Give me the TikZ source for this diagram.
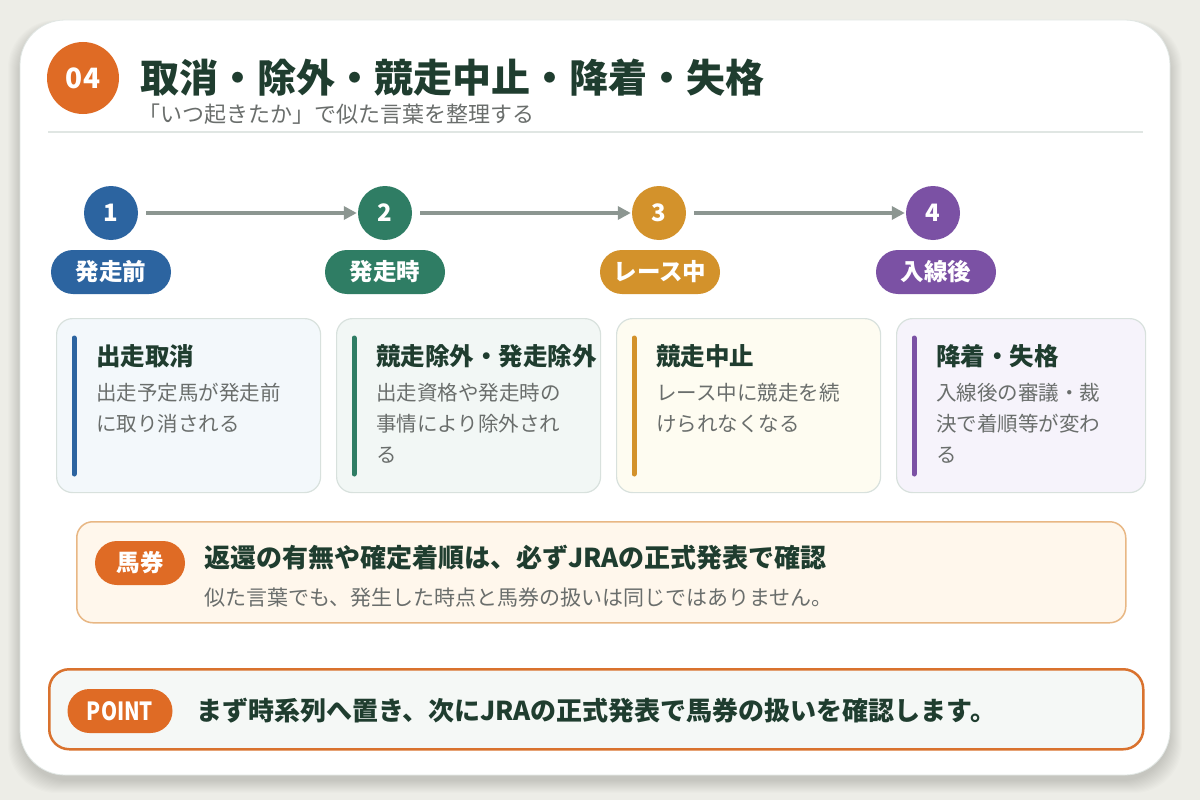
\documentclass[tikz,border=0pt]{standalone}
\usepackage{fontspec}
\setmainfont{Noto Sans CJK JP}
\usetikzlibrary{arrows.meta}
\definecolor{bgc}{HTML}{EDEDE7}
\definecolor{dark}{HTML}{1F3D2F}
\definecolor{grayt}{HTML}{6A6E6C}
\definecolor{c1}{HTML}{2C64A0}
\definecolor{c2}{HTML}{2F7D64}
\definecolor{c3}{HTML}{D3922B}
\definecolor{c4}{HTML}{7B51A4}
\definecolor{orng}{HTML}{DF6B25}
\definecolor{arrg}{HTML}{8C9691}
\definecolor{f1}{HTML}{F3F8FB}
\definecolor{f2}{HTML}{F2F7F5}
\definecolor{f3}{HTML}{FEFCF1}
\definecolor{f4}{HTML}{F6F3FB}
\definecolor{cardb}{HTML}{D8E1DD}
\definecolor{bumpf}{HTML}{FFF7EC}
\definecolor{bumpb}{HTML}{E8B784}
\definecolor{pointf}{HTML}{F5F8F6}
\definecolor{pointb}{HTML}{D9722E}
\definecolor{rule}{HTML}{E0E6E3}
\tikzset{
  numc/.style={circle, fill=#1, minimum size=54pt, inner sep=0pt, text=white, font=\fontsize{24}{26}\selectfont\bfseries},
  pill/.style={rectangle, rounded corners=22pt, fill=#1, minimum width=120pt, minimum height=44pt, inner sep=0pt, text=white, font=\fontsize{23.5}{26}\selectfont\bfseries},
  card/.style={rectangle, rounded corners=16pt, draw=cardb, line width=1.2pt, fill=#1, minimum width=264pt, minimum height=174pt, anchor=north west, inner sep=0pt},
  ctitle/.style={anchor=west, inner sep=0pt, text=dark, font=\fontsize{24.5}{28}\selectfont\bfseries},
  cbody/.style={anchor=north west, inner sep=0pt, align=left, text=grayt, font=\fontsize{20.5}{31}\selectfont},
  arr/.style={draw=arrg, line width=4pt, -{Triangle[length=13pt,width=13pt]}, shorten <=8pt, shorten >=1pt},
  accent/.style={line width=5pt, line cap=round, draw=#1},
}
\begin{document}
\begin{tikzpicture}[x=1pt,y=-1pt]
\useasboundingbox (0,0) rectangle (1200,800);
\fill[bgc] (0,0) rectangle (1200,800);
% shadow
\foreach \i in {0,...,12} {
  \fill[black, opacity=0.011, rounded corners=48pt] (20-\i,26-\i*0.5) rectangle (1170+\i,781+\i);
}
\fill[white, rounded corners=45pt] (20,20) rectangle (1170,775);
\draw[rule, line width=0.8pt, rounded corners=45pt] (20,20) rectangle (1170,775);

% header
\node[circle, fill=orng, minimum size=72pt, inner sep=0pt, text=white, font=\fontsize{28}{30}\selectfont\bfseries] (hn) at (83,78) {04};
\node[anchor=west, inner sep=0pt, text=dark, font=\fontsize{39}{42}\selectfont\bfseries] (title) at (140,78) {取消・除外・競走中止・降着・失格};
\node[anchor=west, inner sep=0pt, text=grayt, font=\fontsize{22}{24}\selectfont] (sub) at (138,114) {「いつ起きたか」で似た言葉を整理する};
\draw[rule, line width=1.5pt] (48,132) -- (1143,132);

% timeline
\node[numc=c1] (n1) at (111,213) {1};
\node[numc=c2] (n2) at (385,213) {2};
\node[numc=c3] (n3) at (659,213) {3};
\node[numc=c4] (n4) at (933,213) {4};
\draw[arr] (n1) -- (n2);
\draw[arr] (n2) -- (n3);
\draw[arr] (n3) -- (n4);
\node[pill=c1] (p1) at (111,272) {発走前};
\node[pill=c2] (p2) at (385,272) {発走時};
\node[pill=c3] (p3) at (660,272) {レース中};
\node[pill=c4] (p4) at (936,272) {入線後};

% cards
\node[card=f1] (k1) at (56,318) {};
\node[card=f2] (k2) at (336,318) {};
\node[card=f3] (k3) at (616,318) {};
\node[card=f4, minimum width=249pt] (k4) at (896,318) {};
\draw[accent=c1] (74,338) -- (74,474);
\draw[accent=c2] (354,338) -- (354,474);
\draw[accent=c3] (634,338) -- (634,474);
\draw[accent=c4] (914,338) -- (914,474);
\node[ctitle] (t1) at (96,356) {出走取消};
\node[ctitle] (t2) at (376,356) {競走除外・発走除外};
\node[ctitle] (t3) at (656,356) {競走中止};
\node[ctitle] (t4) at (936,356) {降着・失格};
\node[cbody] (b1) at (96,383) {出走予定馬が発走前\\に取り消される};
\node[cbody] (b2) at (376,383) {出走資格や発走時の\\事情により除外され\\る};
\node[cbody] (b3) at (656,383) {レース中に競走を続\\けられなくなる};
\node[cbody] (b4) at (936,383) {入線後の審議・裁\\決で着順等が変わ\\る};

% bumper
\node[rectangle, rounded corners=16pt, draw=bumpb, line width=1.5pt, fill=bumpf, minimum width=1049pt, minimum height=101pt, anchor=north west, inner sep=0pt] (bump) at (76,521) {};
\node[pill=orng, minimum width=90pt] (bp) at (140,563) {馬券};
\node[anchor=west, inner sep=0pt, text=dark, font=\fontsize{26}{28}\selectfont\bfseries] (bt) at (204,558) {返還の有無や確定着順は、必ずJRAの正式発表で確認};
\node[anchor=west, inner sep=0pt, text=grayt, font=\fontsize{21}{24}\selectfont] (bs) at (204,598) {似た言葉でも、発生した時点と馬券の扱いは同じではありません。};

% point
\node[rectangle, rounded corners=20pt, draw=pointb, line width=2.5pt, fill=pointf, minimum width=1094pt, minimum height=80pt, anchor=north west, inner sep=0pt] (pt) at (48,668) {};
\node[pill=orng, minimum width=105pt, font=\fontsize{25}{27}\selectfont\bfseries] (pp) at (120,711) {\scalebox{0.82}[1]{POINT}};
\node[anchor=west, inner sep=0pt, text=dark, font=\fontsize{26}{28}\selectfont\bfseries] (ptx) at (196,711) {まず時系列へ置き、次にJRAの正式発表で馬券の扱いを確認します。};
\end{tikzpicture}
\end{document}
